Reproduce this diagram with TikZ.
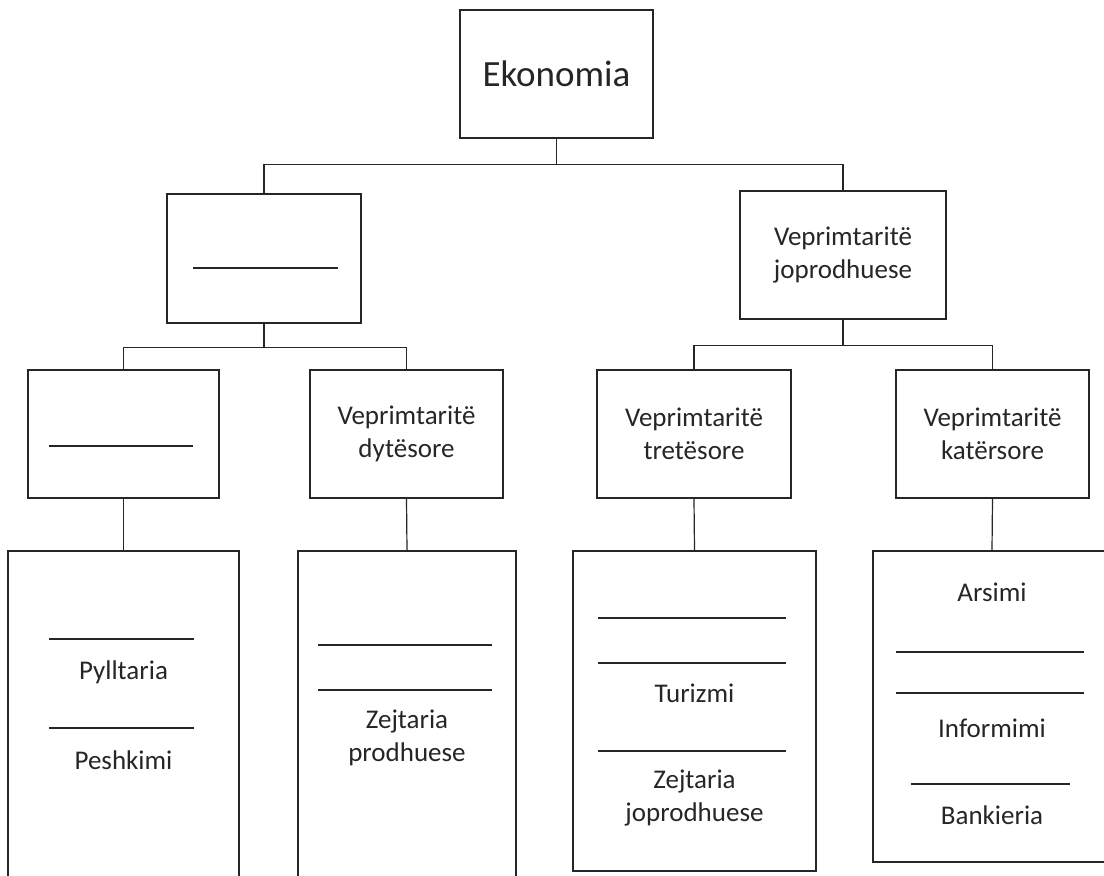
\documentclass[tikz,border=0pt]{standalone}
\usepackage{fontspec}
\setmainfont{Carlito}
\usepackage{tikz}

\begin{document}
\begin{tikzpicture}[x=1pt, y=-1pt,
  box/.style={draw=black!85, line width=1.3pt, fill=white, align=center, inner sep=0pt,
    text=black!85, font=\fontsize{27}{33}\selectfont},
  blank/.style={draw=black!85, line width=1.6pt},
  link/.style={draw=black!85, line width=1.2pt},
  lbl/.style={inner sep=0pt, align=center, text=black!85, font=\fontsize{27}{33}\selectfont}]

  \useasboundingbox (0,0) rectangle (1104,876);

  % Top box
  \node[box, minimum width=193pt, minimum height=128pt, font=\fontsize{37}{44}\selectfont] (eko) at (556.5,74) {Ekonomia};

  % Second level
  \node[box, minimum width=194pt, minimum height=129pt] (prod) at (264,258.5) {};
  \node[box, minimum width=206pt, minimum height=128pt] (joprod) at (843,255) {Veprimtaritë\\joprodhuese};

  % Third level
  \node[box, minimum width=191pt, minimum height=128pt] (par) at (123.5,434) {};
  \node[box, minimum width=193pt, minimum height=128pt] (dyt) at (406.5,434) {Veprimtaritë\\dytësore};
  \node[box, minimum width=194pt, minimum height=128pt] (tre) at (694,434) {Veprimtaritë\\tretësore};
  \node[box, minimum width=193pt, minimum height=128pt] (kat) at (992.5,434) {Veprimtaritë\\katërsore};

  % Lists (the two on the left and the one on the right run off the page)
  \node[box, minimum width=231pt, minimum height=359pt] (parlist) at (123.5,730.5) {};
  \node[box, minimum width=218pt, minimum height=359pt] (dytlist) at (407,730.5) {};
  \node[box, minimum width=243pt, minimum height=320pt] (trelist) at (694.5,711) {};
  \node[box, minimum width=238pt, minimum height=311pt] (katlist) at (992,706.5) {};

  % Connectors
  \draw[link] (eko.south) -- ++(0,26) coordinate (top);
  \draw[link] (top) -| (prod.north);
  \draw[link] (top) -| (joprod.north);
  \draw[link] (prod.south) -- ++(0,24) coordinate (left);
  \draw[link] (left) -| (par.north);
  \draw[link] (left) -| (dyt.north);
  \draw[link] (joprod.south) -- ++(0,26) coordinate (right);
  \draw[link] (right) -| (tre.north);
  \draw[link] (right) -| (kat.north);
  \draw[link] (par.south) -- (parlist.north);
  \draw[link] (dyt.south) -- (dytlist.north);
  \draw[link] (tre.south) -- (trelist.north);
  \draw[link] (kat.south) -- (katlist.north);

  % Blanks to fill in
  \draw[blank] (193,268) -- (338,268);
  \draw[blank] (49,446) -- (193,446);
  \draw[blank] (49,639) -- (194,639);
  \draw[blank] (49,728) -- (194,728);
  \draw[blank] (318,645) -- (492,645);
  \draw[blank] (318,690) -- (492,690);
  \draw[blank] (598,618) -- (786,618);
  \draw[blank] (598,663) -- (786,663);
  \draw[blank] (598,751) -- (786,751);
  \draw[blank] (896,652) -- (1084,652);
  \draw[blank] (896,693) -- (1084,693);
  \draw[blank] (911,784) -- (1070,784);

  % List entries
  \node[lbl] (pyll) at (123.5,672) {Pylltaria};
  \node[lbl] (pesh) at (123.5,760) {Peshkimi};
  \node[lbl] (zejp) at (407,737.5) {Zejtaria\\prodhuese};
  \node[lbl] (turi) at (694.5,693) {Turizmi};
  \node[lbl] (zejj) at (694.5,798.5) {Zejtaria\\joprodhuese};
  \node[lbl] (arsi) at (992,592) {Arsimi};
  \node[lbl] (info) at (992,728) {Informimi};
  \node[lbl] (bank) at (992,815) {Bankieria};
\end{tikzpicture}
\end{document}
